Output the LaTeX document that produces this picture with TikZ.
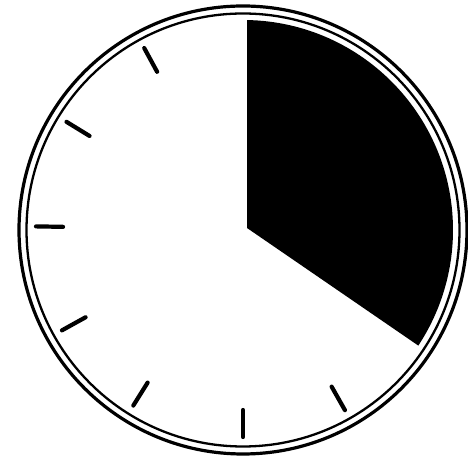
\documentclass[tikz,border=0pt]{standalone}
\begin{document}
\begin{tikzpicture}[x=1pt,y=1pt,
  rim/.style={draw=black,line width=3.2pt},
  innerrim/.style={draw=black,line width=2.3pt},
  tick/.style={draw=black,line width=4.2pt,line cap=round},
  sector/.style={fill=black}]
\useasboundingbox (0,0) rectangle (468,462);
\coordinate (C) at (243,232);
\coordinate (A) at (247,234);
% filled sector
\fill[sector] (A) -- ([shift={(C)}]88.9:210) arc[start angle=88.9,end angle=-33.4,radius=210] -- cycle;
% double rim
\draw[rim] (C) circle[radius=224];
\draw[innerrim] (C) circle[radius=216.5];
% ticks
\foreach \a in {118.5,148.5,179,209,238,270,299.5}{
  \draw[tick] ([shift={(C)}]\a:180) -- ([shift={(C)}]\a:207);
}
\end{tikzpicture}
\end{document}
